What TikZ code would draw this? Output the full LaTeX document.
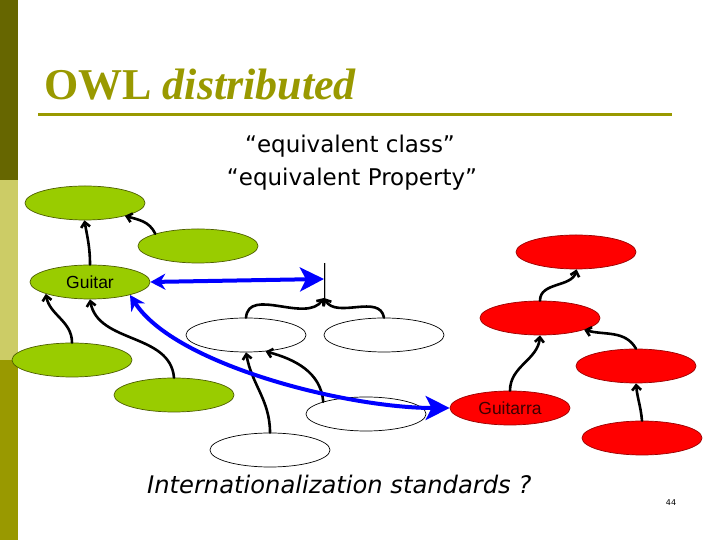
\documentclass[tikz,border=0pt]{standalone}
\usepackage{fontspec}
\setmainfont{Liberation Serif}
\newfontfamily\tah{DejaVu Sans}
\newfontfamily\arial{Liberation Sans}
\usetikzlibrary{shapes.geometric,arrows.meta}
\definecolor{bartop}{HTML}{666600}
\definecolor{barmid}{HTML}{CCCC66}
\definecolor{barbot}{HTML}{999900}
\definecolor{titlecol}{HTML}{999900}
\definecolor{grn}{HTML}{99CC00}
\definecolor{grnline}{HTML}{4D5E00}
\definecolor{redline}{HTML}{990000}
\definecolor{blu}{HTML}{0000FF}
\begin{document}
\begin{tikzpicture}[x=1pt,y=1pt,
  el/.style={ellipse, minimum width=120pt, minimum height=34pt, inner sep=0pt, line width=0.7pt},
  gel/.style={el, fill=grn, draw=grnline},
  wel/.style={el, fill=white, draw=black},
  rel/.style={el, fill=red, draw=redline},
  sub/.style={arrows={-Straight Barb[length=5pt,width=9pt]}, line width=2.6pt, line cap=round},
  eqv/.style={draw=blu, line width=4pt},
  lbl/.style={font=\arial\fontsize{17.5}{20}\selectfont}
]
\useasboundingbox (0,0) rectangle (720,540);
% left bar
\fill[bartop] (0,360) rectangle (18,540);
\fill[barmid] (0,180) rectangle (18,360);
\fill[barbot] (0,0) rectangle (18,180);
% title
\node[anchor=base west, inner sep=0pt, text=titlecol, font=\fontsize{44}{50}\selectfont] (title) at (44,440) {\textbf{OWL} \textbf{\textit{distributed}}};
\draw[titlecol, line width=3pt] (38,425) -- (672,425);
\node[anchor=base, inner sep=0pt, font=\tah\fontsize{23}{26}\selectfont] (t1) at (350,387) {“equivalent class”};
\node[anchor=base, inner sep=0pt, font=\tah\fontsize{23}{26}\selectfont] (t2) at (352,354) {“equivalent Property”};
\node[anchor=base west, inner sep=0pt, font=\tah\itshape\fontsize{24.2}{27}\selectfont] (t3) at (147,46) {Internationalization standards ?};
\node[inner sep=0pt, font=\tah\fontsize{8}{10}\selectfont] (pg) at (671,37) {44};
% green
\node[gel] (G1) at (85,337) {};
\node[gel] (G2) at (198,294) {};
\node[gel, lbl] (Guitar) at (90,258) {Guitar};
\node[gel] (G4) at (72,180) {};
\node[gel] (G5) at (174,145) {};
% white
\node[wel] (W1) at (246,205) {};
\node[wel] (W2) at (384,205) {};
\node[wel] (W3) at (366,126) {};
\node[wel] (W4) at (270,90) {};
% red
\node[rel] (R1) at (576,288) {};
\node[rel] (R2) at (540,222) {};
\node[rel] (R3) at (636,174) {};
\node[rel, lbl, text={rgb,255:red,60;green,0;blue,0}] (Guitarra) at (510,132) {Guitarra};
\node[rel] (R5) at (642,102) {};
% vertical bar
\coordinate (bt) at (324,277);
\coordinate (bb) at (324,235);
\coordinate (bar) at (324,242);
\coordinate (barb) at (324,261);
\draw[gray!50, line width=1.6pt] ([xshift=1pt]bt) -- ([xshift=1pt]bb);
\draw[black, line width=0.7pt] (bt) -- (bb);
% black subclass arrows
\draw[sub] (G2.164) to[out=115,in=-15] (G1.-18);
\draw[sub] (Guitar.north) to[out=90,in=-80] (G1.-92);
\draw[sub] (G4.north) to[out=90,in=-80] (Guitar.195);
\draw[sub] (G5.north) to[out=95,in=-80] (Guitar.-90);
\draw[sub] (W1.north) to[out=85,in=-125] (bar);
\draw[sub] (W2.north) to[out=100,in=-60] (bar);
\draw[sub] (W4.north) to[out=90,in=-80] (W1.south);
\draw[sub] (W3.164) to[out=95,in=-15] (W1.-40);
\draw[sub] (R2.north) to[out=90,in=-105] (R1.-88);
\draw[sub] (Guitarra.north) to[out=90,in=-95] (R2.south);
\draw[sub] (R3.north) to[out=120,in=-15] (R2.-15);
\draw[sub] (R5.north) to[out=95,in=-85] (R3.south);
% blue equivalences
\draw[eqv, arrows={Stealth[length=15pt,width=16pt]-Stealth[length=24pt,width=24pt,inset=6pt]}] (Guitar.east) -- (barb);
\draw[eqv, arrows={Stealth[length=15pt,width=16pt]-Stealth[length=24pt,width=24pt,inset=6pt]}] (Guitar.-18) .. controls (175,175) and (347,132) .. (Guitarra.west);
\end{tikzpicture}
\end{document}
